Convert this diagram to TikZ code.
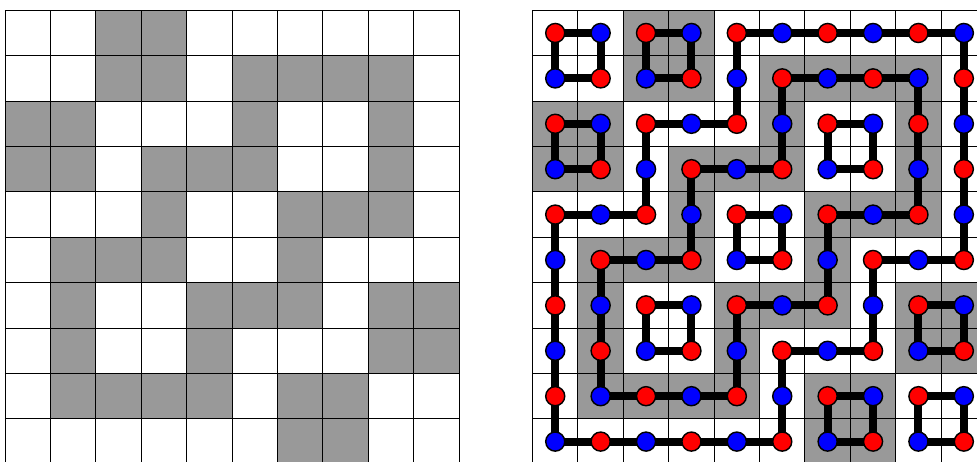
\documentclass[tikz,border=0pt]{standalone}
\pgfdeclarelayer{bg}
\pgfdeclarelayer{mid}
\pgfsetlayers{bg,mid,main}
\definecolor{shade}{HTML}{999999}
\begin{document}
\begin{tikzpicture}[x=1cm,y=1cm,
  gridline/.style={line width=0.6pt, draw=black},
  cellshade/.style={fill=shade},
  edge/.style={line width=5pt, draw=black, line join=round},
  dot/.style={circle, draw=black, line width=0.9pt, minimum size=0.42cm, inner sep=0pt}]
\useasboundingbox (-0.110,0.051) rectangle (21.41,10.227);
\begin{pgfonlayer}{bg}
\fill[white] (-0.110,0.051) rectangle (21.41,10.227);
\foreach \ox in {0,11.62} {
  \foreach \r/\c in {0/2,0/3,
    1/2,1/3,1/5,1/6,1/7,1/8,
    2/0,2/1,2/5,2/8,
    3/0,3/1,3/3,3/4,3/5,3/8,
    4/3,4/6,4/7,4/8,
    5/1,5/2,5/3,5/6,
    6/1,6/4,6/5,6/6,6/8,6/9,
    7/1,7/4,7/8,7/9,
    8/1,8/2,8/3,8/4,8/6,8/7,
    9/6,9/7}
    \fill[cellshade] (\ox+\c, 9-\r) rectangle ++(1,1);
  \foreach \i in {0,...,10} {
    \draw[gridline] (\ox+\i,0) -- (\ox+\i,10);
    \draw[gridline] (\ox,\i) -- (\ox+10,\i);
  }
}
\end{pgfonlayer}
\foreach \r in {0,...,9} {
  \foreach \c in {0,...,9} {
    \pgfmathtruncatemacro\p{mod(\r+\c,2)}
    \ifnum\p=0 \def\dotcol{red}\else\def\dotcol{blue}\fi
    \node[dot, fill=\dotcol] (n-\r-\c) at (12.12+\c, 9.5-\r) {};
  }
}
\begin{pgfonlayer}{mid}
\foreach \r/\c in {0/0,0/2,2/0,2/6,4/4,6/2,6/8,8/6,8/8} {
  \pgfmathtruncatemacro\rr{\r+1}
  \pgfmathtruncatemacro\cc{\c+1}
  \draw[edge] (n-\r-\c.center) -- (n-\r-\cc.center) -- (n-\rr-\cc.center) -- (n-\rr-\c.center) -- cycle;
}
\draw[edge] (n-6-6.center) -- (n-5-6.center) -- (n-4-6.center) -- (n-4-7.center) -- (n-4-8.center)
  -- (n-3-8.center) -- (n-2-8.center) -- (n-1-8.center) -- (n-1-7.center) -- (n-1-6.center)
  -- (n-1-5.center) -- (n-2-5.center) -- (n-3-5.center) -- (n-3-4.center) -- (n-3-3.center)
  -- (n-4-3.center) -- (n-5-3.center) -- (n-5-2.center) -- (n-5-1.center) -- (n-6-1.center)
  -- (n-7-1.center) -- (n-8-1.center) -- (n-8-2.center) -- (n-8-3.center) -- (n-8-4.center)
  -- (n-7-4.center) -- (n-6-4.center) -- (n-6-5.center) -- cycle;
\draw[edge] (n-0-4.center) -- (n-0-5.center) -- (n-0-6.center) -- (n-0-7.center) -- (n-0-8.center)
  -- (n-0-9.center) -- (n-1-9.center) -- (n-2-9.center) -- (n-3-9.center) -- (n-4-9.center)
  -- (n-5-9.center) -- (n-5-8.center) -- (n-5-7.center) -- (n-6-7.center) -- (n-7-7.center)
  -- (n-7-6.center) -- (n-7-5.center) -- (n-8-5.center) -- (n-9-5.center) -- (n-9-4.center)
  -- (n-9-3.center) -- (n-9-2.center) -- (n-9-1.center) -- (n-9-0.center) -- (n-8-0.center)
  -- (n-7-0.center) -- (n-6-0.center) -- (n-5-0.center) -- (n-4-0.center) -- (n-4-1.center)
  -- (n-4-2.center) -- (n-3-2.center) -- (n-2-2.center) -- (n-2-3.center) -- (n-2-4.center)
  -- (n-1-4.center) -- cycle;
\end{pgfonlayer}
\end{tikzpicture}
\end{document}
